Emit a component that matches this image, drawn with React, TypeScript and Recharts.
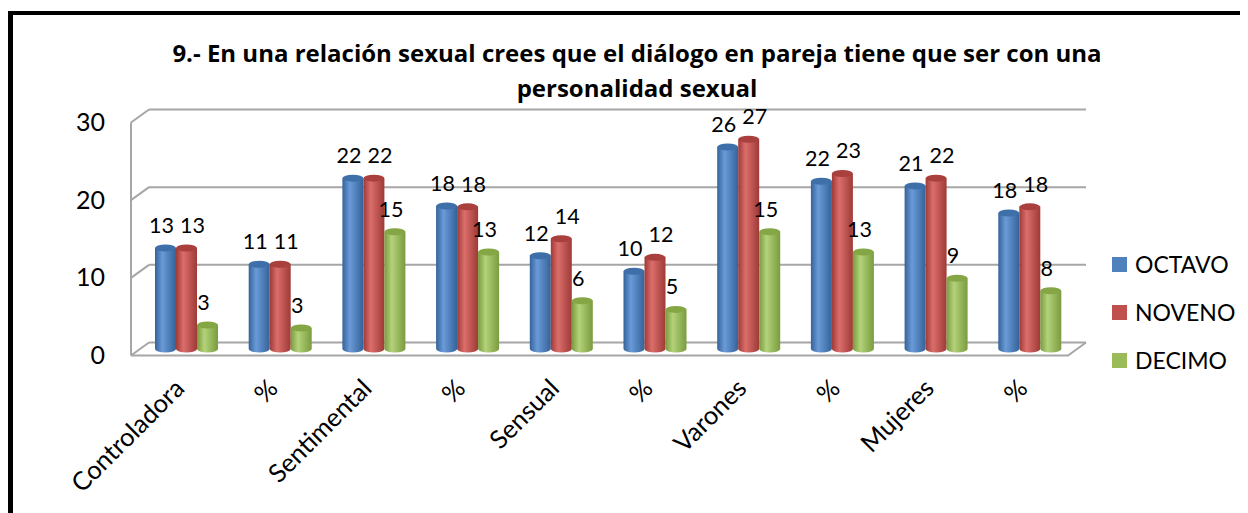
import React from 'react';
import {
  BarChart,
  Bar,
  XAxis,
  YAxis,
  CartesianGrid,
  ReferenceLine,
  LabelList,
  Legend,
} from 'recharts';

const categories = ['Controladora', '%', 'Sentimental', '%', 'Sensual', '%', 'Varones', '%', 'Mujeres', '%'];
const octavo = [13, 10.9, 22, 18.4, 12, 10, 26, 21.6, 21, 17.5];
const noveno = [13, 10.9, 22, 18.3, 14.2, 11.8, 27, 22.6, 22, 18.3];
const decimo = [3.1, 2.7, 15.1, 12.5, 6.2, 5.1, 15.1, 12.5, 9.1, 7.5];
const yTicks = [0, 10, 20, 30];

const seriesNames = ['OCTAVO', 'NOVENO', 'DECIMO'];
const seriesKeys = ['octavo', 'noveno', 'decimo'];
const seriesColors = ['#4F81BD', '#C0504D', '#9BBB59'];
const labelShift = [-4, 6, -4];
const shades = [
  { dark: '#34629A', light: '#6A9BD8', top: '#3E6FA9' },
  { dark: '#9E3A37', light: '#DB6E6B', top: '#A9403D' },
  { dark: '#7A9B3E', light: '#B3D27A', top: '#84A645' },
];

const data = categories.map((name, i) => ({
  name,
  octavo: octavo[i],
  noveno: noveno[i],
  decimo: decimo[i],
}));

const FONT = 'Lato, "Open Sans", sans-serif';
const DX = 9;
const DY = 6.5;

const makeCylinder = (idx: number) => (props: any) => {
  const { x, y, width, height } = props;
  if (!height || height <= 0) return <g />;
  const rx = width / 2;
  const ry = 3.5;
  const b = y + height;
  const d = `M${x},${y} L${x},${b} A${rx},${ry} 0 0 0 ${x + width},${b} L${x + width},${y} Z`;
  return (
    <g>
      <path d={d} fill={`url(#cyl${idx})`} />
      <ellipse cx={x + rx} cy={y} rx={rx} ry={ry} fill={shades[idx].top} />
    </g>
  );
};

const GridLine = (props: any) => {
  const { x1, x2, y1 } = props;
  return (
    <g stroke="#A6A6A6" strokeWidth={2} fill="none">
      <line x1={x1 + DX} y1={y1 - DY} x2={x2 + DX} y2={y1 - DY} />
      <line x1={x1 - DX} y1={y1 + DY} x2={x1 + DX} y2={y1 - DY} />
    </g>
  );
};

const Floor = (props: any) => {
  const { x1, x2, y1 } = props;
  return (
    <path
      d={`M${x1 - DX},${y1 + DY} L${x2 - DX},${y1 + DY} L${x2 + DX},${y1 - DY}`}
      stroke="#A6A6A6"
      strokeWidth={2}
      fill="none"
    />
  );
};

const XTick = (props: any) => {
  const { x, y, payload } = props;
  const tx = x - 1;
  const ty = y + 33;
  return (
    <text
      x={tx}
      y={ty}
      transform={`rotate(-45 ${tx} ${ty})`}
      textAnchor="end"
      fontSize={25.5}
      fontFamily={FONT}
      fill="#000"
    >
      {payload.value}
    </text>
  );
};

const renderLegend = () => (
  <div style={{ fontFamily: FONT, fontSize: 23, color: '#000' }}>
    {seriesNames.map((n, i) => (
      <div key={n} style={{ display: 'flex', alignItems: 'center', height: 48 }}>
        <span style={{ display: 'inline-block', width: 15, height: 15, background: seriesColors[i], marginRight: 8 }} />
        <span>{n}</span>
      </div>
    ))}
  </div>
);

export default function App() {
  return (
    <div style={{ position: 'relative', width: 1240, height: 505, background: '#fff' }}>
      <div
        style={{
          position: 'absolute',
          left: 0,
          top: 3,
          width: 1235,
          height: 498,
          borderTop: '4px solid #000',
          borderLeft: '5px solid #000',
        }}
      />
      <div
        style={{
          position: 'absolute',
          left: 0,
          top: 27,
          width: 1258,
          textAlign: 'center',
          fontFamily: '"Open Sans", sans-serif',
          fontWeight: 'bold',
          fontSize: 24,
          lineHeight: '35px',
          color: '#000',
        }}
      >
        9.- En una relación sexual crees que el diálogo en pareja tiene que ser con una
        <br />
        personalidad sexual
      </div>
      <BarChart
        width={1240}
        height={505}
        data={data}
        margin={{ top: 108, right: 171, bottom: 44, left: 0 }}
        barGap={0}
        barSize={21}
        style={{ position: 'absolute', left: 0, top: 0 }}
      >
        <defs>
          {shades.map((s, i) => (
            <linearGradient key={i} id={`cyl${i}`} x1="0" y1="0" x2="1" y2="0">
              <stop offset="0%" stopColor={s.dark} />
              <stop offset="35%" stopColor={s.light} />
              <stop offset="100%" stopColor={s.dark} />
            </linearGradient>
          ))}
        </defs>
        <CartesianGrid vertical={false} horizontal={GridLine as any} />
        <ReferenceLine y={0} shape={Floor as any} />
        <XAxis
          dataKey="name"
          height={120}
          axisLine={false}
          tickLine={false}
          interval={0}
          tick={<XTick />}
        />
        <YAxis
          width={132}
          domain={[0, 30]}
          ticks={yTicks}
          tickSize={0}
          tickMargin={35}
          axisLine={{ stroke: '#A6A6A6', strokeWidth: 2, transform: `translate(${-DX} ${DY})` } as any}
          tick={{ fontSize: 25, fill: '#000', fontFamily: FONT, dy: 6 }}
        />
        <Legend
          layout="vertical"
          align="center"
          verticalAlign="middle"
          content={renderLegend}
          wrapperStyle={{ left: 1104, top: 232, width: 130 }}
        />
        {seriesKeys.map((k, i) => (
          <Bar
            key={k}
            dataKey={k}
            name={seriesNames[i]}
            fill={seriesColors[i]}
            shape={makeCylinder(i)}
            isAnimationActive={false}
          >
            <LabelList
              dataKey={k}
              position="top"
              offset={15}
              dx={labelShift[i]}
              fontSize={21.5}
              fontFamily={FONT}
              fill="#000"
              formatter={(v: any) => Math.round(Number(v))}
            />
          </Bar>
        ))}
      </BarChart>
    </div>
  );
}
